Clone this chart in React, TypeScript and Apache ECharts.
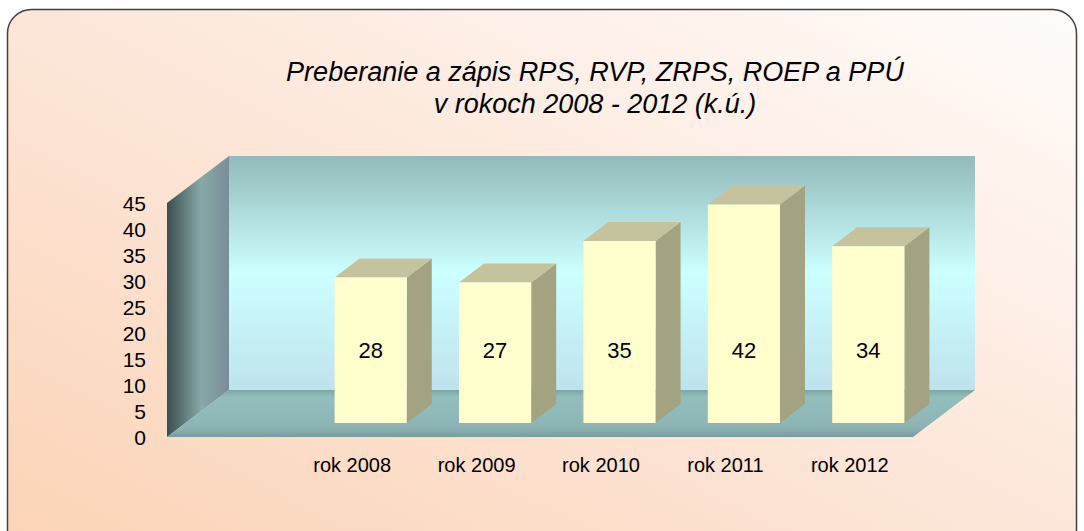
import React, { useEffect, useRef } from "react";
import * as echarts from "echarts";

const categories = ["rok 2008", "rok 2009", "rok 2010", "rok 2011", "rok 2012"];
const values = [28, 27, 35, 42, 34];
const titleLines = ["Preberanie a zápis RPS, RVP, ZRPS, ROEP a PPÚ", "v rokoch 2008 - 2012 (k.ú.)"];
const yMin = 0;
const yMax = 45;
const yStep = 5;

const FONT = "'Liberation Sans', Arial, sans-serif";

export default function App() {
  const ref = useRef<HTMLDivElement>(null);

  useEffect(() => {
    if (!ref.current) return;
    const chart = echarts.init(ref.current, undefined, { renderer: "svg" });

    // depth of the 3D box (floor/walls) and of each bar
    const wallDx = 62, wallDy = -47;
    const barOx = 18.5, barOy = -14;
    const barDx = 25, barDy = -19;
    const labelLevel = 14; // value level at which the data labels sit

    const renderBar = (params: any, api: any) => {
      const idx = api.value(0);
      const v = api.value(1);
      const base = api.coord([idx, 0]);
      const top = api.coord([idx, v]);
      const lab = api.coord([idx, labelLevel]);
      const bw = api.size([1, 0])[0] * 0.58;
      const x0 = base[0] - bw / 2 + barOx;
      const x1 = x0 + bw;
      const yb = base[1] + barOy;
      const yt = top[1] + barOy;
      return {
        type: "group",
        children: [
          {
            type: "polygon",
            shape: { points: [[x1, yt], [x1 + barDx, yt + barDy], [x1 + barDx, yb + barDy], [x1, yb]] },
            style: { fill: "#a3a381" },
          },
          {
            type: "polygon",
            shape: { points: [[x0, yt], [x0 + barDx, yt + barDy], [x1 + barDx, yt + barDy], [x1, yt]] },
            style: { fill: "#c4c39d" },
          },
          {
            type: "rect",
            shape: { x: x0, y: yt, width: bw, height: yb - yt },
            style: { fill: "#ffffcd" },
          },
          {
            type: "text",
            x: (x0 + x1) / 2,
            y: lab[1] + barOy,
            style: {
              text: String(v),
              fill: "#000",
              font: `22px ${FONT}`,
              align: "center",
              verticalAlign: "middle",
            },
          },
        ],
      };
    };

    // walls (decoration) – front-left corner of the box and its depth
    const fx0 = 167, fx1 = 913, fyTop = 203, fyBot = 437;
    const bx0 = fx0 + wallDx, bx1 = fx1 + wallDx;
    const byTop = fyTop + wallDy, byBot = fyBot + wallDy;

    chart.setOption({
      animation: false,
      title: {
        text: titleLines.join("\n"),
        left: 590,
        top: 51,
        textAlign: "center",
        textStyle: {
          fontFamily: FONT,
          fontStyle: "italic",
          fontWeight: "normal",
          fontSize: 27,
          lineHeight: 32,
          color: "#000",
        },
      },
      graphic: [
        {
          type: "rect",
          z: -10,
          shape: { x: 7.5, y: 9.5, width: 1069, height: 545, r: 24 },
          style: {
            fill: new echarts.graphic.LinearGradient(0, 1, 1, 0, [
              { offset: 0, color: "#fbd3b6" },
              { offset: 0.55, color: "#fde8dc" },
              { offset: 1, color: "#fffcfa" },
            ]),
            stroke: "#404040",
            lineWidth: 1.5,
          },
        },
        {
          type: "rect",
          z: -9,
          shape: { x: bx0, y: byTop, width: bx1 - bx0, height: byBot - byTop },
          style: {
            fill: new echarts.graphic.LinearGradient(0, 0, 0, 1, [
              { offset: 0, color: "#93baba" },
              { offset: 0.5, color: "#ccffff" },
              { offset: 1, color: "#bfe2ec" },
            ]),
          },
        },
        {
          type: "polygon",
          z: -9,
          shape: { points: [[fx0, fyTop], [bx0, byTop], [bx0, byBot], [fx0, fyBot]] },
          style: {
            fill: new echarts.graphic.LinearGradient(0, 0, 1, 0, [
              { offset: 0, color: "#3a4e4e" },
              { offset: 0.55, color: "#87a9a8" },
              { offset: 1, color: "#7a8d98" },
            ]),
          },
        },
        {
          type: "polygon",
          z: -9,
          shape: { points: [[fx0, fyBot], [bx0, byBot], [bx1, byBot], [fx1, fyBot]] },
          style: {
            fill: new echarts.graphic.LinearGradient(0, 0, 0, 1, [
              { offset: 0, color: "#7ea4a4" },
              { offset: 0.15, color: "#94bebe" },
              { offset: 0.8, color: "#8db4b4" },
              { offset: 1, color: "#789c9d" },
            ]),
          },
        },
      ],
      grid: { left: 290, right: 172, top: 203, bottom: 94, containLabel: false },
      xAxis: {
        type: "category",
        data: categories,
        axisLine: { show: false },
        axisTick: { show: false },
        splitLine: { show: false },
        axisLabel: { margin: 18, fontSize: 20, fontFamily: FONT, color: "#000" },
      },
      yAxis: {
        type: "value",
        min: yMin,
        max: yMax,
        interval: yStep,
        axisLine: { show: false },
        axisTick: { show: false },
        splitLine: { show: false },
        axisLabel: { margin: 144, fontSize: 21, fontFamily: FONT, color: "#000" },
      },
      series: [
        {
          type: "custom",
          renderItem: renderBar,
          data: values.map((v, i) => [i, v]),
          z: 2,
        },
      ],
    });

    return () => chart.dispose();
  }, []);

  return (
    <div
      style={{ position: "fixed", left: 0, top: 0, width: 1084, height: 531, overflow: "hidden", background: "#fff" }}
    >
      <div ref={ref} style={{ width: 1084, height: 531 }} />
    </div>
  );
}
